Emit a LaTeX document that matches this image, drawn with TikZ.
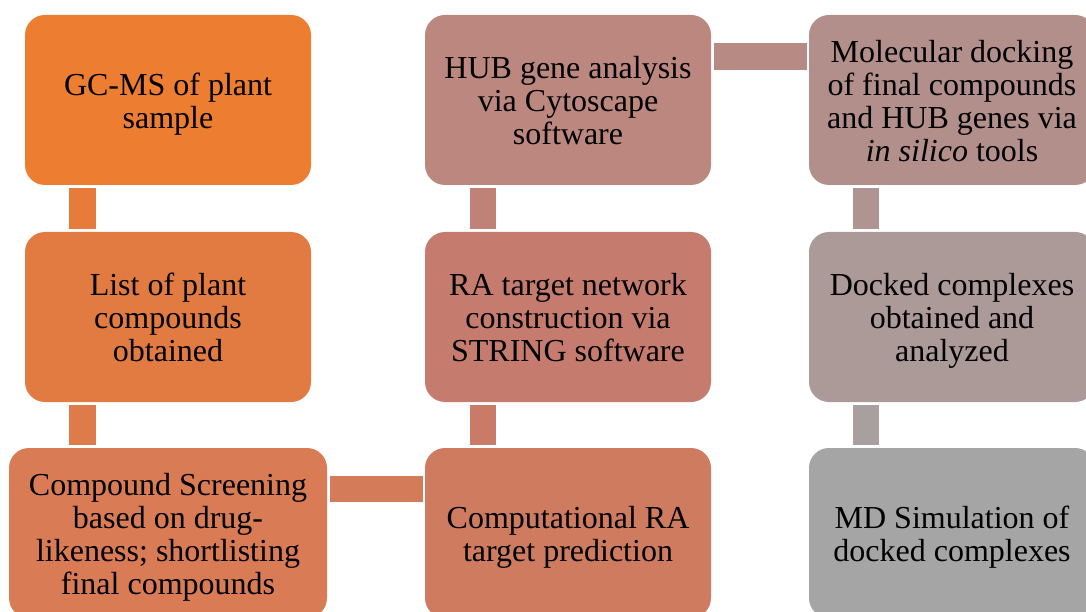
\documentclass[tikz,border=0pt]{standalone}
\usepackage{fontspec}
\setmainfont{Liberation Serif}
\definecolor{c1}{HTML}{ED7D31}
\definecolor{c2}{HTML}{E27B42}
\definecolor{c3}{HTML}{D97B55}
\definecolor{c4}{HTML}{CF7B60}
\definecolor{c5}{HTML}{C57C6E}
\definecolor{c6}{HTML}{BC877E}
\definecolor{c7}{HTML}{B38F8B}
\definecolor{c8}{HTML}{AC9A99}
\definecolor{c9}{HTML}{A5A5A5}
% fixed top of the first line, so every label sits at the same optical centre
\newcommand{\topgap}{\rule{0pt}{33pt}}
\tikzset{
  box/.style={rounded corners=20pt, draw=none, minimum width=286pt,
    minimum height=170pt, align=center, inner sep=0pt,
    font=\fontsize{32}{33}\selectfont, text=black,
    execute at end node=\strut},
  wide/.style={minimum width=318pt},
  link/.style={line width=26.5pt, line cap=butt, shorten <=3pt, shorten >=3pt}
}
\begin{document}
\begin{tikzpicture}[x=1pt, y=-1pt]
\useasboundingbox (0,0) rectangle (1086,612);
% first column
\node[box, fill=c1] (b1) at (168,100) {\topgap GC-MS of plant\\sample};
\node[box, fill=c2] (b2) at (168,317) {\topgap List of plant\\compounds\\obtained};
\node[box, wide, fill=c3] (b3) at (168,533) {\topgap Compound Screening\\based on drug-\\likeness; shortlisting\\final compounds};
% second column
\node[box, fill=c4] (b4) at (568,533) {\topgap Computational RA\\target prediction};
\node[box, fill=c5] (b5) at (568,317) {\topgap RA target network\\construction via\\STRING software};
\node[box, fill=c6] (b6) at (568,100) {\topgap HUB gene analysis\\via Cytoscape\\software};
% third column
\node[box, fill=c7] (b7) at (952,100) {\topgap Molecular docking\\of final compounds\\and HUB genes via\\\textit{in silico} tools};
\node[box, fill=c8] (b8) at (952,317) {\topgap Docked complexes\\obtained and\\analyzed};
\node[box, fill=c9] (b9) at (952,533) {\topgap MD Simulation of\\docked complexes};
% connectors
\draw[link, draw=c1!50!c2] ([xshift=57.5]b1.south west) -- ([xshift=57.5]b2.north west);
\draw[link, draw=c2!50!c3] ([xshift=57.5]b2.south west) -- ([xshift=73.5]b3.north west);
\draw[link, draw=c3!50!c4, shorten >=2pt] ([yshift=-41]b3.north east) -- ([yshift=-41]b4.north west);
\draw[link, draw=c4!50!c5] ([xshift=58]b4.north west) -- ([xshift=58]b5.south west);
\draw[link, draw=c5!50!c6] ([xshift=58]b5.north west) -- ([xshift=58]b6.south west);
\draw[link, draw=c6!50!c7, shorten >=2pt] ([yshift=-41.5]b6.north east) -- ([yshift=-41.5]b7.north west);
\draw[link, draw=c7!50!c8] ([xshift=57]b7.south west) -- ([xshift=57]b8.north west);
\draw[link, draw=c8!50!c9] ([xshift=57]b8.south west) -- ([xshift=57]b9.north west);
\end{tikzpicture}
\end{document}
